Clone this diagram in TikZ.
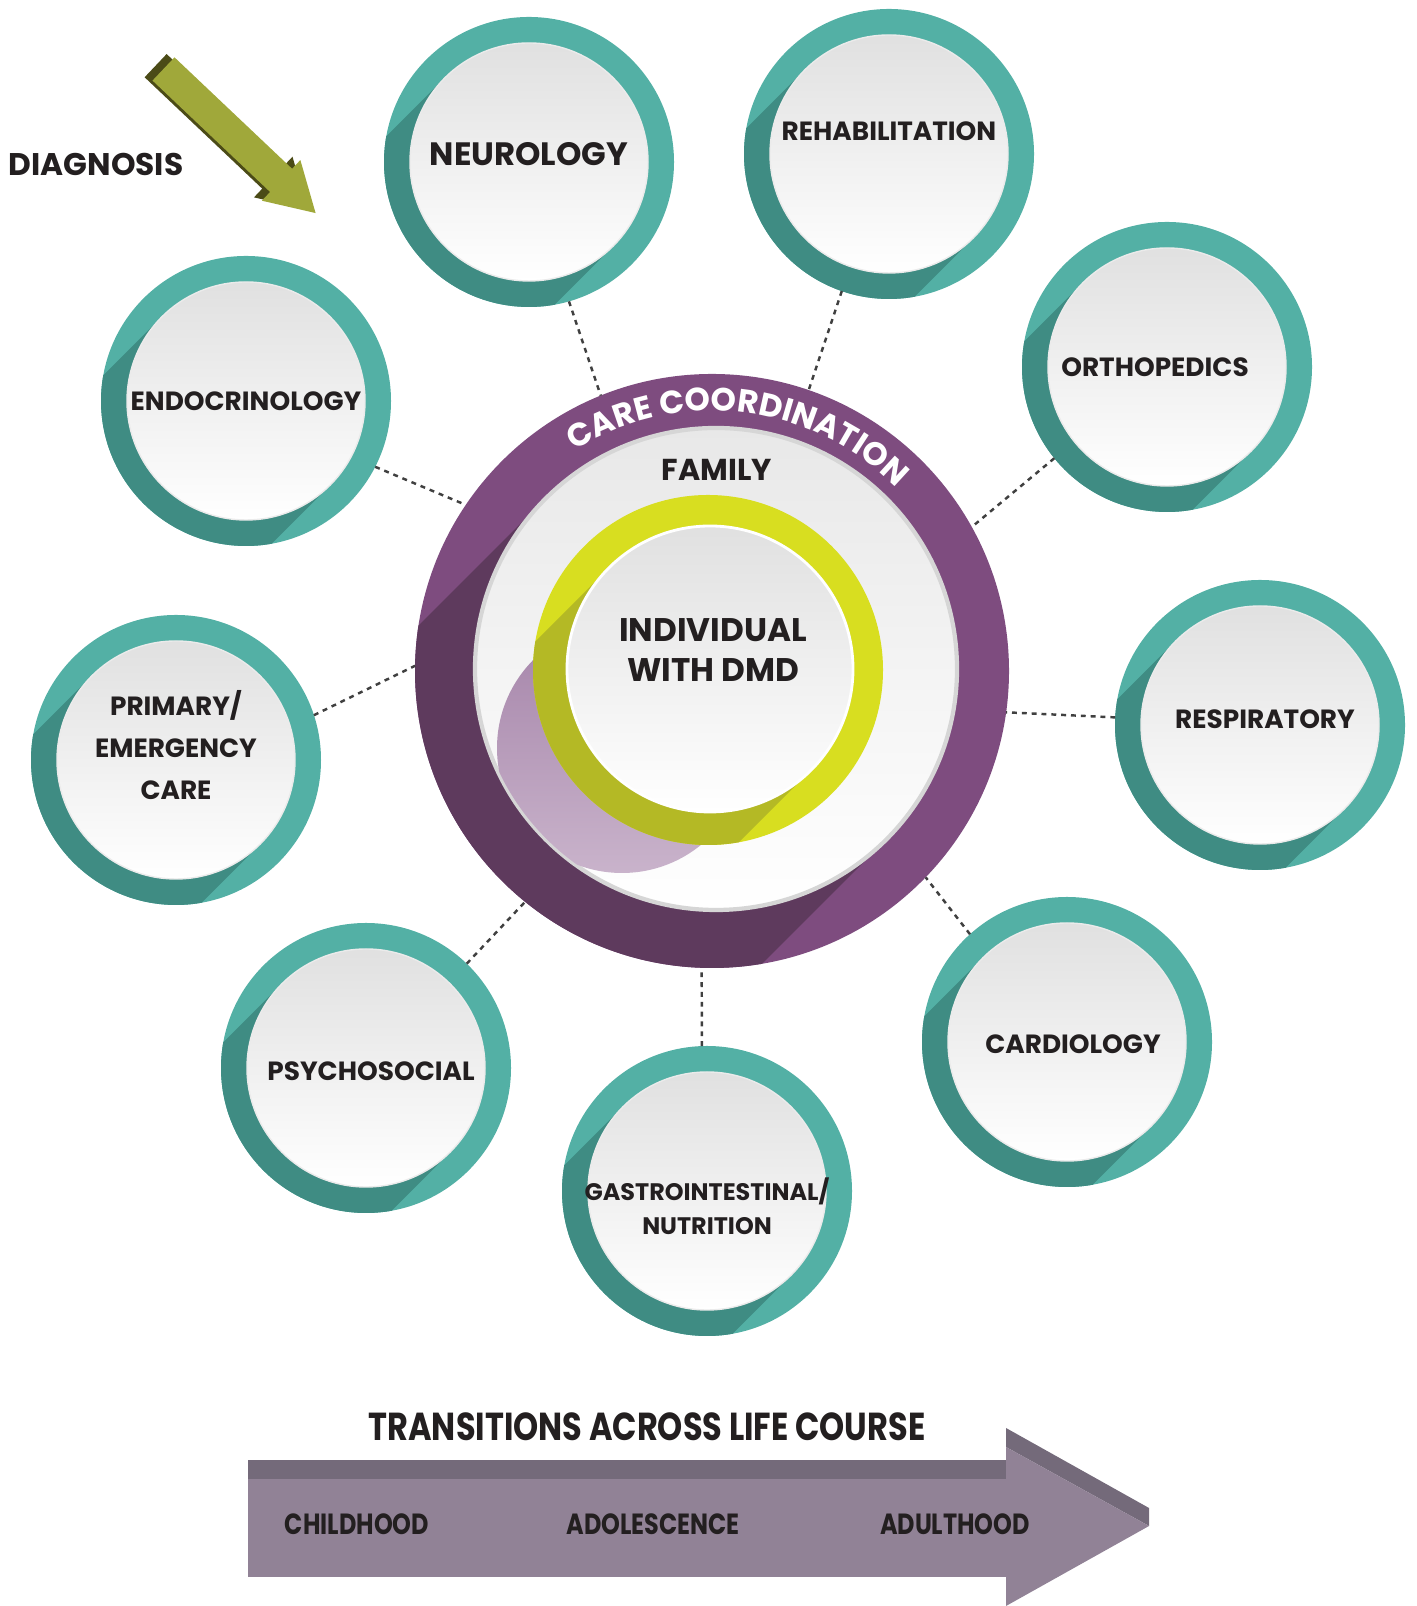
\documentclass[tikz,border=0pt]{standalone}
\usepackage{fontspec}
\setmainfont{Poppins}
\newfontfamily\narrowfont[FakeStretch=0.82]{Poppins}
\usetikzlibrary{calc,decorations.text}

\definecolor{ink}{HTML}{231F20}
\definecolor{tealC}{HTML}{53B0A5}
\definecolor{tealD}{HTML}{3F8C83}
\definecolor{purpC}{HTML}{7E4C7F}
\definecolor{purpD}{HTML}{5E3A5D}
\definecolor{lilacA}{HTML}{A584A9}
\definecolor{lilacB}{HTML}{C9B3CB}
\definecolor{yelC}{HTML}{D8DE20}
\definecolor{yelD}{HTML}{B4B925}
\definecolor{olive}{HTML}{A0A83A}
\definecolor{oliveD}{HTML}{4B4B17}
\definecolor{life}{HTML}{918296}
\definecolor{lifeD}{HTML}{746A7A}

\tikzset{
	ring/.style={circle, fill=tealC, minimum size=2.9cm, inner sep=0pt, outer sep=0pt},
	disc/.style={circle, minimum size=2.38cm, inner sep=0pt, top color=black!12, bottom color=white, draw=black!8},
	lab/.style={font=\bfseries\fontsize{7.5}{12}\selectfont, text=ink, align=center},
	biglab/.style={font=\bfseries\fontsize{8.9}{10}\selectfont, text=ink, align=center},
	link/.style={dash pattern=on 1.4pt off 1.4pt, line width=0.7pt, black!75},
	coordring/.style={circle, fill=purpC, minimum size=5.94cm, inner sep=0pt, outer sep=0pt},
	familydisc/.style={circle, minimum size=4.82cm, inner sep=0pt, top color=black!9, bottom color=white, draw=black!16, line width=1.2pt},
	yring/.style={circle, fill=yelC, minimum size=3.5cm, inner sep=0pt, outer sep=0pt},
	dmddisc/.style={circle, minimum size=2.86cm, inner sep=0pt, top color=black!12, bottom color=white, draw=white, line width=0.8pt},
	stagelab/.style={font=\narrowfont\bfseries\fontsize{8.3}{9}\selectfont, text=ink},
}

% teal ring with long shadow and white disc
\def\specialty[#1](#2)#3#4{%
	\node[ring] (#3) at (#2) {};
	\begin{scope}
		\clip (#2) circle (1.45);
		\fill[tealD] ($(#2)+(-45:1.19)$) -- ++(-135:3) -- ++(135:2.38) -- ++(45:3) -- cycle;
	\end{scope}
	\node[disc, label={[lab,#1]center:#4}] (#3-disc) at (#2) {};
}

\begin{document}
\begin{tikzpicture}
		%%%%% START %%%%%
		\useasboundingbox (0,0) rectangle (14.16,16.06);
		
		%% centre
		\node[coordring] (care) at (7.12,9.35) {};
		\begin{scope}
			\clip (care.center) circle (2.97);
			\fill[purpD] ($(7.16,9.37)+(-45:2.41)$) -- ++(-135:6) -- ++(135:4.82) -- ++(45:6) -- cycle;
		\end{scope}
		\path[decorate, decoration={text along path, text align=center,
			text={|\bfseries\fontsize{9.2}{10}\selectfont\color{white}|CARE COORDINATION}}]
			($(care.center)+(173.4:2.6)$) arc[start angle=173.4, end angle=-6.6, radius=2.6];
		
		\node[familydisc] (family) at (7.16,9.37) {};
		\begin{scope}
			\clip (family.center) circle (2.4);
			\shade[top color=lilacA, bottom color=lilacB] (6.22,8.58) circle (1.25);
		\end{scope}
		\node[yring] (yring) at (7.08,9.36) {};
		\begin{scope}
			\clip (yring.center) circle (1.75);
			\fill[yelD] ($(7.10,9.37)+(-45:1.43)$) -- ++(-135:3) -- ++(135:2.86) -- ++(45:3) -- cycle;
		\end{scope}
		\node[dmddisc] (dmd) at (7.10,9.37) {};
		
		\node[biglab, font=\bfseries\fontsize{8.6}{10}\selectfont] (famlab) at (7.17,11.36) {FAMILY};
		\node[biglab, font=\bfseries\fontsize{9.3}{11.5}\selectfont] (dmdlab) at (7.13,9.56) {INDIVIDUAL\\WITH DMD};
		
		%% specialties
		\specialty[biglab, font=\bfseries\fontsize{9.2}{10}\selectfont, yshift=0.08cm](5.29,14.44){neuro}{NEUROLOGY}
		\specialty[yshift=0.23cm](8.89,14.52){rehab}{REHABILITATION}
		\specialty[xshift=-0.12cm](11.67,12.39){ortho}{ORTHOPEDICS}
		\specialty[xshift=0.05cm, yshift=0.06cm](12.60,8.81){resp}{RESPIRATORY}
		\specialty[xshift=0.06cm, yshift=-0.02cm](10.67,5.64){cardio}{CARDIOLOGY}
		\specialty[yshift=-0.15cm, font=\bfseries\fontsize{6.8}{9.6}\selectfont](7.07,4.15){gastro}{GASTROINTESTINAL/\\NUTRITION}
		\specialty[xshift=0.05cm, yshift=-0.03cm](3.66,5.38){psycho}{PSYCHOSOCIAL}
		\specialty[yshift=0.15cm](1.76,8.46){primary}{PRIMARY/\\EMERGENCY\\CARE}
		\specialty[](2.46,12.05){endo}{ENDOCRINOLOGY}
		
		%% dotted links
		\draw[link] (neuro.-74.7) -- (care.112.7);
		\draw[link] (rehab.-109.9) -- (care.71.1);
		\draw[link] (ortho.-141.2) -- (care.29.2);
		\draw[link] (resp.177.7) -- (care.-8.8);
		\draw[link] (cardio.132.6) -- (care.-44.6);
		\draw[link] (gastro.92.3) -- (care.-92.1);
		\draw[link] (psycho.46.1) -- (care.-129.8);
		\draw[link] (primary.18.3) -- (care.179);
		\draw[link] (endo.-27.4) -- (care.146.3);
		
		%% diagnosis
		\node[biglab] (diag) at (0.96,14.41) {DIAGNOSIS};
		\begin{scope}[shift={(1.635,15.37)}, rotate=-43.45]
			\fill[oliveD, shift={(-0.08,-0.03)}] (0,-0.16) -- (1.62,-0.16) -- (1.62,-0.28) -- (2.095,0) -- (1.62,0.28) -- (1.62,0.16) -- (0,0.16) -- cycle;
			\fill[olive] (0,-0.16) -- (1.62,-0.16) -- (1.62,-0.28) -- (2.095,0) -- (1.62,0.28) -- (1.62,0.16) -- (0,0.16) -- cycle;
		\end{scope}
		
		%% life course arrow
		\fill[lifeD] (2.48,1.46) rectangle (10.06,1.27);
		\fill[life] (2.48,1.27) rectangle (10.06,0.29);
		\fill[lifeD] (10.06,1.78) -- (11.49,0.98) -- (11.49,0.80) -- (10.06,1.59) -- cycle;
		\fill[life] (10.06,1.59) -- (11.49,0.80) -- (10.06,0) -- cycle;
		
		\node[stagelab, font=\narrowfont\bfseries\fontsize{11.1}{12}\selectfont] (life) at (6.47,1.79) {TRANSITIONS ACROSS LIFE COURSE};
		\node[stagelab] (child) at (3.57,0.82) {CHILDHOOD};
		\node[stagelab] (adol) at (6.53,0.82) {ADOLESCENCE};
		\node[stagelab] (adult) at (9.55,0.82) {ADULTHOOD};
		%%%%% END %%%%%
	\end{tikzpicture}
\end{document}
